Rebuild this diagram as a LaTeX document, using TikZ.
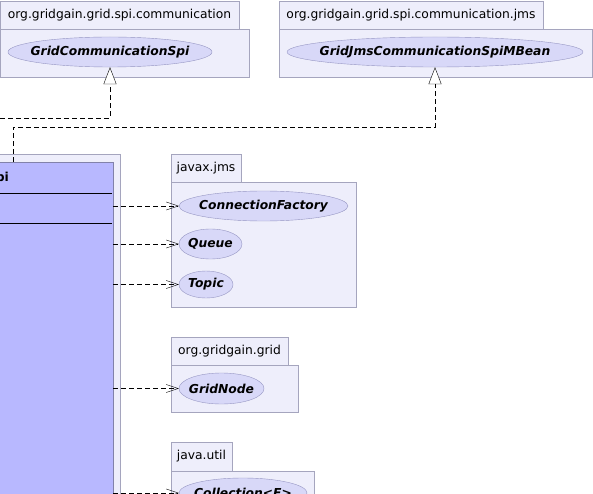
\documentclass[tikz,border=0pt]{standalone}
\usepackage{fontspec}
\setmainfont{DejaVu Sans}
\usetikzlibrary{arrows.meta,shapes.geometric}
\definecolor{pkgfill}{RGB}{238,238,251}
\definecolor{pkgline}{RGB}{165,165,190}
\definecolor{clsfill}{RGB}{184,184,255}
\definecolor{clsline}{RGB}{130,130,170}
\definecolor{ifcfill}{RGB}{216,216,248}
\definecolor{ifcline}{RGB}{150,150,195}
\newcommand{\ifcname}[1]{\makebox[0pt]{#1}}
\begin{document}
\begin{tikzpicture}[x=1pt,y=-1pt,
    pkgtab/.style={rectangle,draw=pkgline,fill=pkgfill,inner sep=0pt,
      font=\fontsize{12.3}{14}\selectfont},
    pkgbody/.style={draw=pkgline,fill=pkgfill},
    iface/.style={ellipse,draw=ifcline,fill=ifcfill,inner sep=0pt,
      font=\fontsize{12.3}{14}\selectfont\bfseries\itshape},
    real/.style={dash pattern=on 5pt off 3pt,-{Triangle[open,fill=white,length=17pt,width=13pt]}},
    dep/.style={dash pattern=on 5pt off 3pt,-{Straight Barb[length=12pt,width=8pt]}}]
  \useasboundingbox (0,0) rectangle (593,494);
  \begin{scope}
    \clip (0,0) rectangle (593,494);
    % packages
    \draw[pkgbody] (0,29) rectangle (249,77);
    \draw[pkgbody] (279,29) rectangle (592,77);
    \draw[pkgbody] (171,182) rectangle (356,307);
    \draw[pkgbody] (171,365) rectangle (298,412);
    \draw[pkgbody] (171,471) rectangle (314,520);
    \draw[pkgbody] (-200,154) rectangle (120,520);
    \node[pkgtab,minimum width=239,minimum height=28] (commtab) at (119.5,15) {org.gridgain.grid.spi.communication};
    \node[pkgtab,minimum width=264,minimum height=28] (jmstab) at (411,15) {org.gridgain.grid.spi.communication.jms};
    \node[pkgtab,minimum width=70,minimum height=28] (javaxtab) at (206,168) {javax.jms};
    \node[pkgtab,minimum width=117,minimum height=28] (gridtab) at (229.5,351) {org.gridgain.grid};
    \node[pkgtab,minimum width=61,minimum height=29] (utiltab) at (201.5,456.5) {java.util};
    % class
    \node[draw=clsline,fill=clsfill,anchor=north east,minimum width=313,minimum height=360] (jmsspi) at (113,162) {};
    \node[anchor=east,inner sep=0pt,font=\fontsize{12.3}{14}\selectfont\bfseries] (jmsspiname) at (9,178) {GridJmsCommunicationSpi};
    \draw (-200,193) -- (112,193);
    \draw (-200,223) -- (112,223);
    % interfaces
    \node[iface,minimum width=204,minimum height=30] (gcs) at (110,52) {\ifcname{GridCommunicationSpi}};
    \node[iface,minimum width=296,minimum height=30] (gjm) at (435,52) {\ifcname{GridJmsCommunicationSpiMBean}};
    \node[iface,minimum width=169,minimum height=30] (cf) at (263.5,206) {\ifcname{ConnectionFactory}};
    \node[iface,minimum width=63,minimum height=30] (queue) at (210.5,244) {\ifcname{Queue}};
    \node[iface,minimum width=54,minimum height=27] (topic) at (206,284.5) {\ifcname{Topic}};
    \node[iface,minimum width=85,minimum height=31] (gridnode) at (221.5,388.5) {\ifcname{GridNode}};
    \node[iface,minimum width=128,minimum height=30] (coll) at (243,493) {\ifcname{Collection<E>}};
    % edges
    \coordinate (clstop) at (13,162);
    \coordinate (clsleft) at (-20,162);
    \draw[real] (clsleft) -- (-20,118) -| (gcs.south);
    \draw[real] (clstop) -- (13,127) -| (gjm.south);
    \begin{scope}[dep]
      \draw (cf.west -| jmsspi.east) -- (cf.west);
      \draw (queue.west -| jmsspi.east) -- (queue.west);
      \draw (topic.west -| jmsspi.east) -- (topic.west);
      \draw (gridnode.west -| jmsspi.east) -- (gridnode.west);
      \draw (coll.west -| jmsspi.east) -- (coll.west);
    \end{scope}
  \end{scope}
\end{tikzpicture}
\end{document}
